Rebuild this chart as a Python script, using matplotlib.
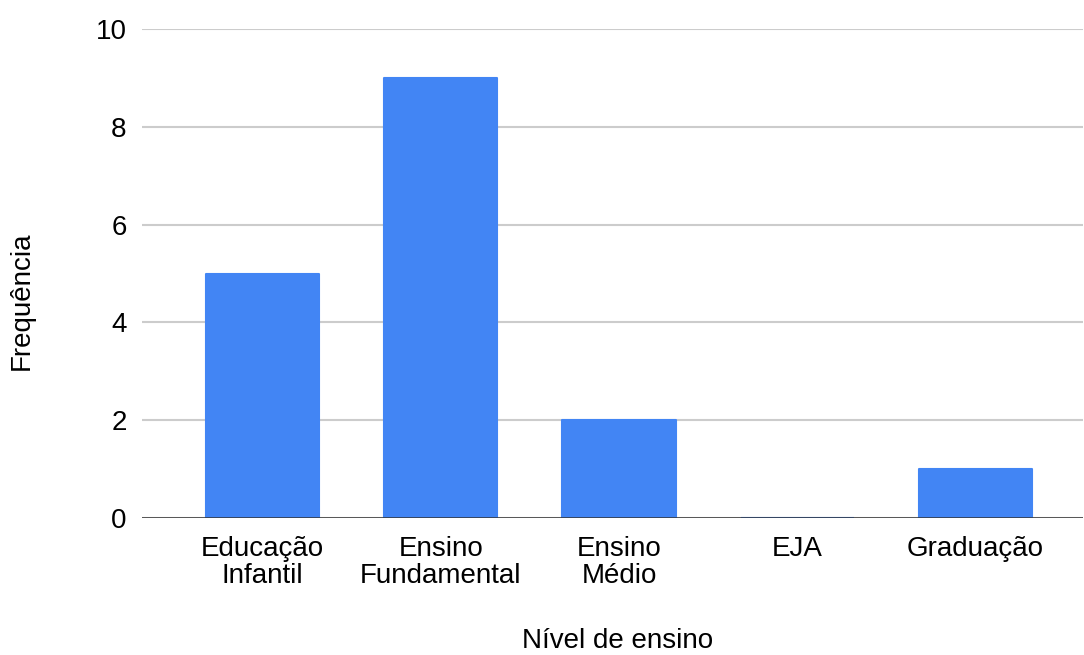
import matplotlib.pyplot as plt

niveis = ["Educação\nInfantil", "Ensino\nFundamental", "Ensino\nMédio", "EJA", "Graduação"]
frequencia = [5, 9, 2, 0, 1]
y_ticks = [0, 2, 4, 6, 8, 10]

plt.rcParams['font.family'] = ['Liberation Sans', 'DejaVu Sans']

fig = plt.figure(figsize=(10.84, 6.55), dpi=100)
ax = fig.add_axes([142 / 1084, 137 / 655, 941 / 1084, 489 / 655])

x = list(range(len(niveis)))
ax.bar(x, frequencia, width=0.635, color='#4285F4', edgecolor='#4285F4',
       linewidth=1.5, joinstyle='round', zorder=3)

ax.set_xlim(-0.676, 4.603)
ax.set_ylim(0, 10)
ax.set_yticks(y_ticks)
ax.set_xticks(x)
ax.set_xticklabels(niveis, fontsize=20, linespacing=1.03)
ax.tick_params(axis='y', labelsize=20, length=0, pad=11)
ax.tick_params(axis='x', length=0, pad=13)
ax.grid(axis='y', color='#cccccc', linewidth=1.5, zorder=0)
ax.axhline(0, color='#333333', linewidth=1.8, zorder=4)
for s in ax.spines.values():
    s.set_visible(False)

fig.text(22 / 1084, 1 - 301 / 655, "Frequência", rotation=90, fontsize=20,
         ha='center', va='center')
fig.text(618 / 1084, 1 - 641 / 655, "Nível de ensino", fontsize=20,
         ha='center', va='center')

fig.savefig("out.png", dpi=100)
